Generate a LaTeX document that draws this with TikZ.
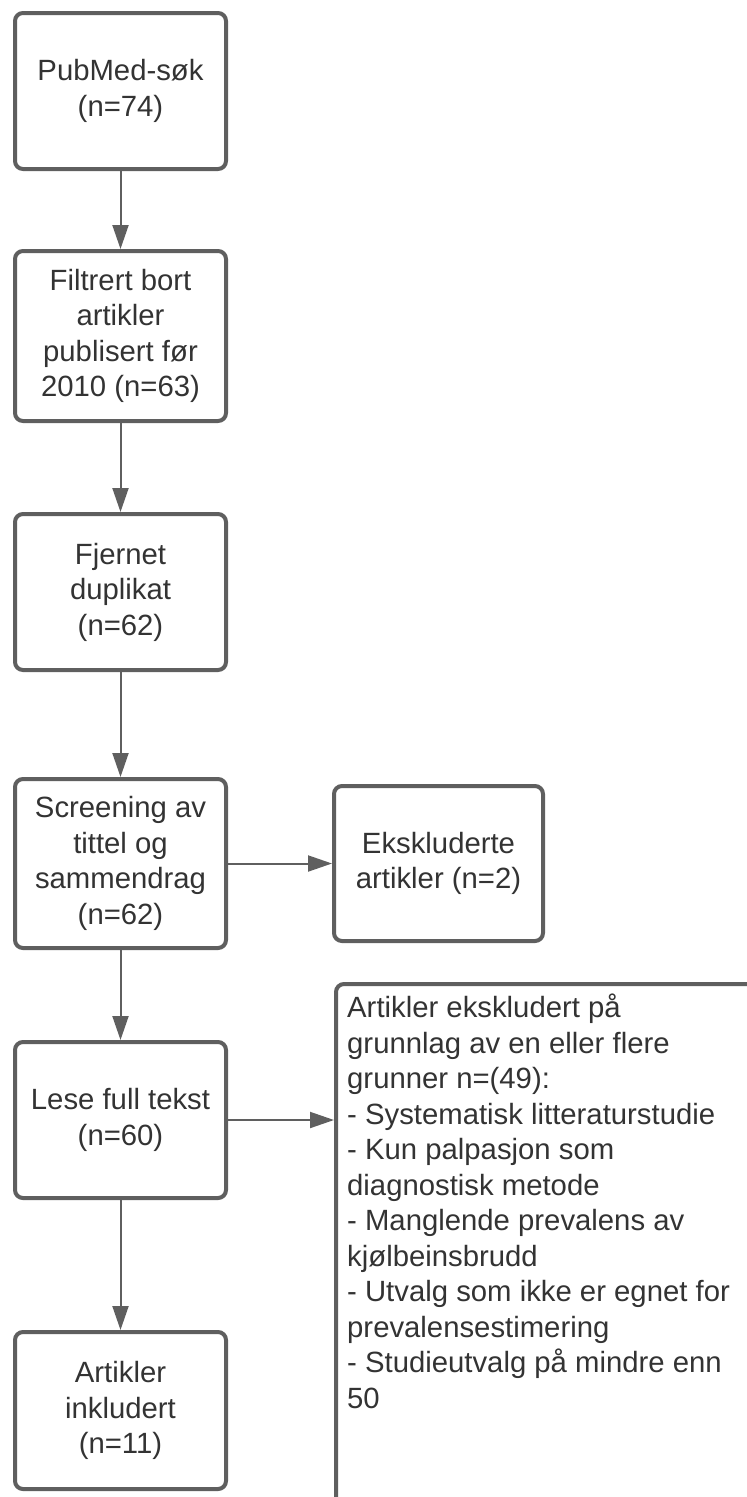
\documentclass[tikz,border=0pt]{standalone}
\usepackage{fontspec}
\setmainfont{Liberation Sans}
\usetikzlibrary{arrows.meta}
\definecolor{edge}{HTML}{5F5F5F}
\definecolor{ink}{HTML}{333333}
\begin{document}
\begin{tikzpicture}[x=1pt,y=-1pt,
  txt/.style={text=ink, font=\fontsize{29.3}{35.5}\selectfont, inner sep=0pt},
  box/.style={txt, draw=edge, line width=4pt, rounded corners=8pt, fill=white,
              minimum width=211pt, align=center},
  conn/.style={draw=edge, line width=2pt, -{Triangle[length=24pt,width=16pt]}}]
\useasboundingbox (0,0) rectangle (747,1497);
\clip (0,0) rectangle (747,1497);

\node[box, minimum height=156pt] (b1) at (120.5,91) {PubMed-søk\\(n=74)};
\node[box, minimum height=170pt] (b2) at (120.5,336) {Filtrert bort\\artikler\\publisert før\\2010 (n=63)};
\node[box, minimum height=156pt] (b3) at (120.5,592) {Fjernet\\duplikat\\(n=62)};
\node[box, minimum height=169pt] (b4) at (120.5,863.5) {Screening av\\tittel og\\sammendrag\\(n=62)};
\node[box, minimum height=156pt] (b5) at (120.5,1120) {Lese full tekst\\(n=60)};
\node[box, minimum height=157pt] (b6) at (120.5,1410.5) {Artikler\\inkludert\\(n=11)};
\node[box, minimum width=209pt, minimum height=155pt] (ex1) at (438.5,863.5) {Ekskluderte\\artikler (n=2)};
\node[box, anchor=north west, minimum width=440pt, minimum height=560pt] (ex2) at (334,982) {};
\node[txt, anchor=north west, align=left] (ex2txt) at (347,994)
  {Artikler ekskludert på\\grunnlag av en eller flere\\grunner n=(49):\\- Systematisk litteraturstudie\\- Kun palpasjon som\\diagnostisk metode\\- Manglende prevalens av\\kjølbeinsbrudd\\- Utvalg som ikke er egnet for\\prevalensestimering\\- Studieutvalg på mindre enn\\50};

\draw[conn] (b1.south) -- (b2.north);
\draw[conn] (b2.south) -- (b3.north);
\draw[conn] (b3.south) -- (b4.north);
\draw[conn] (b4.south) -- (b5.north);
\draw[conn] (b5.south) -- (b6.north);
\draw[conn] (b4.east) -- (ex1.west);
\draw[conn] (b5.east) -- (b5.east -| ex2.west);
\end{tikzpicture}
\end{document}
